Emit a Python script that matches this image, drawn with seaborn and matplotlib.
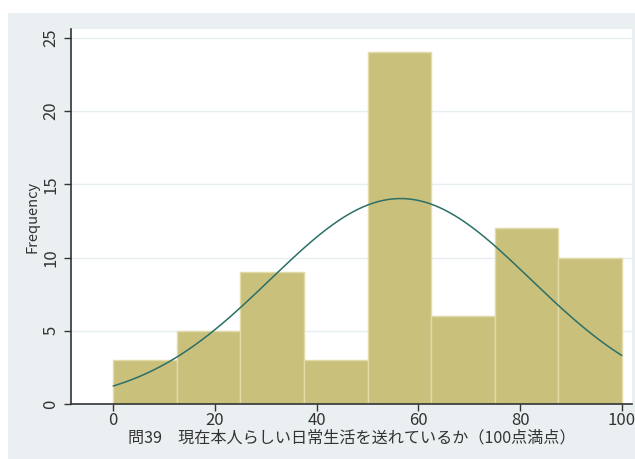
import numpy as np
import pandas as pd
import seaborn as sns
import matplotlib.pyplot as plt
from matplotlib.patches import Rectangle

# histogram bins (width 12.5) and counts
bin_edges = [0, 12.5, 25, 37.5, 50, 62.5, 75, 87.5, 100]
counts = [3, 5, 9, 3, 24, 6, 12, 10]
# normal curve overlay parameters
curve_mean = 56.5
curve_sd = 25.6

x_ticks = [0, 20, 40, 60, 80, 100]
y_ticks = [0, 5, 10, 15, 20, 25]
x_label = "問39　現在本人らしい日常生活を送れているか（100点満点）"
y_label = "Frequency"

sns.set_style("white")
plt.rcParams['font.family'] = ['Noto Sans CJK JP', 'DejaVu Sans']

bg = "#eaf0f2"
fig = plt.figure(figsize=(6.35, 4.59), dpi=100, facecolor="white")
fig.patches.append(Rectangle((8 / 635, 0), 1 - 8 / 635, 1 - 13 / 459,
                             transform=fig.transFigure, facecolor=bg,
                             edgecolor="none", zorder=-10))
ax = fig.add_axes([71 / 635, 1 - 404 / 459, (632 - 71) / 635, (404 - 29) / 459])
ax.set_facecolor("white")

mids = [(bin_edges[i] + bin_edges[i + 1]) / 2 for i in range(len(counts))]
df = pd.DataFrame({"mid": mids, "n": counts})
sns.histplot(data=df, x="mid", weights="n", bins=bin_edges, ax=ax,
             color="#c9c07c", alpha=1, edgecolor="#e0dba8", linewidth=1.0,
             zorder=2)

total = sum(counts)
width = bin_edges[1] - bin_edges[0]
xs = np.linspace(bin_edges[0], bin_edges[-1], 300)
ys = total * width / (curve_sd * np.sqrt(2 * np.pi)) * np.exp(-(xs - curve_mean) ** 2 / (2 * curve_sd ** 2))
sns.lineplot(x=xs, y=ys, ax=ax, color="#2b6f66", linewidth=1.1, zorder=3)

ax.set_xlim(-8.3, 102)
ax.set_ylim(0, 25.6)
ax.set_xticks(x_ticks)
ax.set_yticks(y_ticks)
ax.set_yticklabels([str(v) for v in y_ticks], rotation=90, va="center")
ax.yaxis.grid(True, color="#e6eef0", linewidth=1, zorder=0)
ax.set_axisbelow(True)
for s in ["top", "right"]:
    ax.spines[s].set_visible(False)
for s in ["left", "bottom"]:
    ax.spines[s].set_color("#333333")
    ax.spines[s].set_linewidth(1.2)
ax.tick_params(axis="both", direction="out", length=5, width=1, color="#333333",
               labelsize=12, labelcolor="#333333", left=True, bottom=True)
ax.tick_params(axis="x", pad=1)
ax.set_xlabel(x_label, fontsize=11.6, color="#333333", labelpad=0)
ax.set_ylabel(y_label, fontsize=10.5, color="#333333", labelpad=2)

fig.savefig("out.png", dpi=100, facecolor="white")
